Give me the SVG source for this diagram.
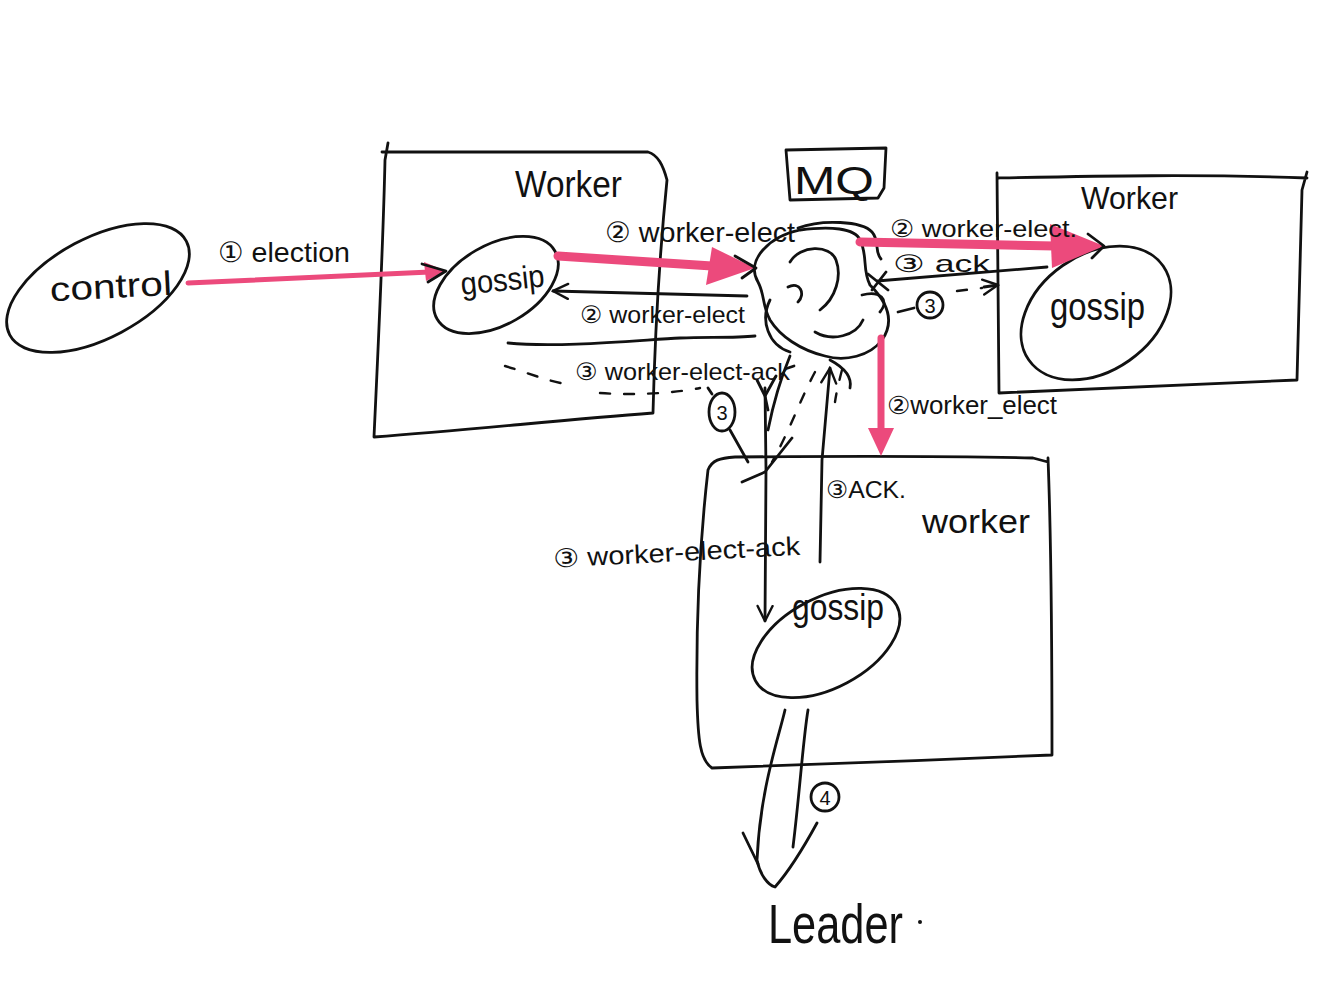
<svg xmlns="http://www.w3.org/2000/svg" width="1330" height="982" viewBox="0 0 1330 982">
<style>
.ink{fill:none;stroke:#111;stroke-width:2.8;stroke-linecap:round;stroke-linejoin:round}
.dash{fill:none;stroke:#111;stroke-width:2.4;stroke-linecap:round;stroke-dasharray:10 14}
.pink{fill:none;stroke:#ec4a7c;stroke-linecap:round}
.phead{fill:#ec4a7c;stroke:none}
.t{font-family:"Liberation Sans","DejaVu Sans",sans-serif;fill:#111}
</style>
<defs>
<marker id="open" viewBox="0 0 12 12" refX="11" refY="6" markerWidth="18" markerHeight="18" markerUnits="userSpaceOnUse" orient="auto">
<path d="M1,1 L11,6 L1,11" fill="none" stroke="#111" stroke-width="1.6" stroke-linecap="round"/>
</marker>
</defs>
<rect width="1330" height="982" fill="#fff"/>

<g id="control">
<ellipse cx="98" cy="288" rx="100" ry="50" transform="rotate(-28 98 288)" class="ink"/>
<text class="t" x="50" y="298" font-size="34" textLength="122" lengthAdjust="spacingAndGlyphs" transform="rotate(-3 110 288)">control</text>
</g>

<g id="worker1">
<path class="ink" d="M388,143 L385,160 C383,250 378,350 374,437 C470,430 560,420 653,413 C655,330 660,250 667,180 C663,165 658,155 648,152 L382,152"/>
<text class="t" x="515" y="197" font-size="36" textLength="107" lengthAdjust="spacingAndGlyphs">Worker</text>
</g>

<g id="gossip1">
<ellipse cx="496" cy="285" rx="68" ry="40" transform="rotate(-30 496 285)" class="ink"/>
<text class="t" x="461" y="291" font-size="32" textLength="84" lengthAdjust="spacingAndGlyphs" transform="rotate(-6 500 285)">gossip</text>
</g>

<g id="mq">
<path class="ink" d="M786,150 L790,200 L878,198 L884,188 L886,148 Z"/>
<text class="t" x="794" y="194" font-size="38" textLength="80" lengthAdjust="spacingAndGlyphs">MQ</text>
<path class="ink" d="M758,282 C745,260 770,236 800,230 C830,226 855,228 860,240 C868,255 862,270 870,285 C885,300 896,320 882,340 C870,356 845,362 825,356 C800,350 780,336 770,320 C762,305 765,295 758,282 Z"/>
<path class="ink" d="M790,262 C800,245 830,244 836,260 C842,276 836,298 820,310 M788,287 C800,281 806,294 798,302 M815,332 C832,342 856,336 863,320 M798,228 C822,219 862,221 872,232 C880,241 874,251 881,259 M770,300 C760,320 768,345 790,352 M862,295 C880,290 890,300 880,312"/>
</g>

<g id="worker2">
<path class="ink" d="M997,173 L999,393 C1100,389 1200,385 1297,380 L1302,190 L1307,172 M998,178 C1100,176 1200,174 1307,178"/>
<text class="t" x="1081" y="209" font-size="32" textLength="97" lengthAdjust="spacingAndGlyphs">Worker</text>
</g>

<g id="gossip2">
<ellipse cx="1096" cy="313" rx="82" ry="58" transform="rotate(-35 1096 313)" class="ink"/>
<text class="t" x="1050" y="320" font-size="38" textLength="95" lengthAdjust="spacingAndGlyphs">gossip</text>
</g>

<g id="worker3">
<path class="ink" d="M708,470 C712,460 720,458 735,457 C850,456 950,456 1033,458 L1048,462 M1048,458 C1052,560 1052,660 1052,755 C940,760 820,764 712,768 C700,760 698,740 697,700 C696,620 700,540 708,470"/>
<text class="t" x="922" y="533" font-size="34" textLength="108" lengthAdjust="spacingAndGlyphs">worker</text>
</g>

<g id="gossip3">
<ellipse cx="826" cy="643" rx="80" ry="45" transform="rotate(-28 826 643)" class="ink"/>
<text class="t" x="792" y="620" font-size="36" textLength="92" lengthAdjust="spacingAndGlyphs">gossip</text>
</g>

<g id="leader">
<text class="t" x="768" y="943" font-size="56" textLength="135" lengthAdjust="spacingAndGlyphs">Leader</text>
<circle cx="920" cy="922" r="2" fill="#111"/>
</g>

<g id="connectors">
<!-- 1 election -->
<path class="pink" stroke-width="5" d="M188,283 L430,272"/>
<polygon class="phead" points="446,271 424,262 426,281"/>
<path class="ink" d="M422,264 L446,271 L428,282"/>
<text class="t" x="218" y="262" font-size="28" textLength="132" lengthAdjust="spacingAndGlyphs">① election</text>

<!-- 2 gossip1 -> MQ -->
<path class="pink" stroke-width="9" d="M558,256 L712,266"/>
<polygon class="phead" points="755,268 712,247 706,285"/>
<path class="ink" d="M735,256 L756,268 L742,278"/>
<text class="t" x="605" y="242" font-size="28" textLength="190" lengthAdjust="spacingAndGlyphs">② worker-elect</text>

<!-- 2 MQ -> gossip1 -->
<path class="ink" marker-end="url(#open)" d="M747,296 L553,291"/>
<text class="t" x="580" y="323" font-size="24" textLength="165" lengthAdjust="spacingAndGlyphs">② worker-elect</text>

<!-- 3 worker-elect-ack (left) -->
<path class="ink" d="M508,343 C560,348 640,340 680,338 C710,337 735,338 755,336"/>
<path class="dash" d="M505,366 C525,372 545,380 565,384"/>
<path class="dash" d="M600,393 C640,396 680,392 700,388"/>
<text class="t" x="575" y="380" font-size="24" textLength="215" lengthAdjust="spacingAndGlyphs">③ worker-elect-ack</text>
<path class="ink" d="M788,368 L794,366"/>

<!-- 2 MQ -> gossip2 -->
<path class="pink" stroke-width="9" d="M860,242 L1055,246"/>
<polygon class="phead" points="1104,246 1050,224 1052,268"/>
<path class="ink" d="M1088,234 L1104,246 L1092,258"/>
<text class="t" x="890" y="237" font-size="24" textLength="187" lengthAdjust="spacingAndGlyphs">② worker-elect.</text>

<!-- 3 ack -->
<path class="ink" d="M1047,267 L877,281 M868,274 L888,290 M872,290 L886,272"/>
<text class="t" x="893" y="272" font-size="24" textLength="97" lengthAdjust="spacingAndGlyphs">③ ack</text>

<!-- 3 dashed to worker2 -->
<path class="dash" stroke-dasharray="6 10" d="M957,291 L982,288"/>
<path class="ink" marker-end="url(#open)" d="M984,287 L998,285"/>
<circle class="ink" cx="930" cy="305" r="13"/>
<text class="t" x="930" y="313" font-size="20" text-anchor="middle">3</text>
<path class="ink" d="M898,312 L914,308"/>

<!-- 2 MQ -> worker3 -->
<path class="pink" stroke-width="7" d="M881,338 L881,430"/>
<polygon class="phead" points="881,456 868,428 894,428"/>
<text class="t" x="887" y="414" font-size="25" textLength="170" lengthAdjust="spacingAndGlyphs">②worker_elect</text>

<!-- 3 worker-elect-ack down to gossip3 -->
<path class="ink" marker-end="url(#open)" d="M765,388 L766,470 L765,621"/>
<path class="ink" d="M757,380 L765,396 L776,376 M765,396 L768,410"/>
<path class="ink" d="M742,482 L765,472 L792,438"/>
<text class="t" x="553" y="561" font-size="26" textLength="247" lengthAdjust="spacingAndGlyphs" transform="rotate(-3 680 550)">③ worker-elect-ack</text>

<!-- 3 ACK up to MQ -->
<path class="ink" marker-end="url(#open)" d="M820,562 L822,460 L830,368"/>
<text class="t" x="826" y="498" font-size="24" textLength="80" lengthAdjust="spacingAndGlyphs">③ACK.</text>

<!-- circled 3 and dashed strokes -->
<ellipse class="ink" cx="722" cy="412" rx="13" ry="19"/>
<text class="t" x="722" y="420" font-size="20" text-anchor="middle">3</text>
<path class="ink" d="M712,394 L708,388 M730,430 L748,462"/>
<path class="dash" stroke-dasharray="14 12" d="M815,372 C800,400 790,430 772,462"/>
<path class="dash" stroke-dasharray="14 12" d="M842,370 C838,385 836,395 835,402"/>
<path class="ink" d="M790,356 C780,380 772,410 768,430 M830,360 C845,368 852,378 850,388"/>

<!-- 4 gossip3 -> Leader -->
<path class="ink" d="M785,710 C778,740 760,790 757,860 C760,875 768,885 775,887 C790,870 805,845 817,823"/>
<path class="ink" d="M743,833 L758,864"/>
<path class="ink" d="M808,710 C803,740 800,790 793,847"/>
<circle class="ink" cx="825" cy="797" r="14"/>
<text class="t" x="825" y="805" font-size="20" text-anchor="middle">4</text>
</g>
</svg>
